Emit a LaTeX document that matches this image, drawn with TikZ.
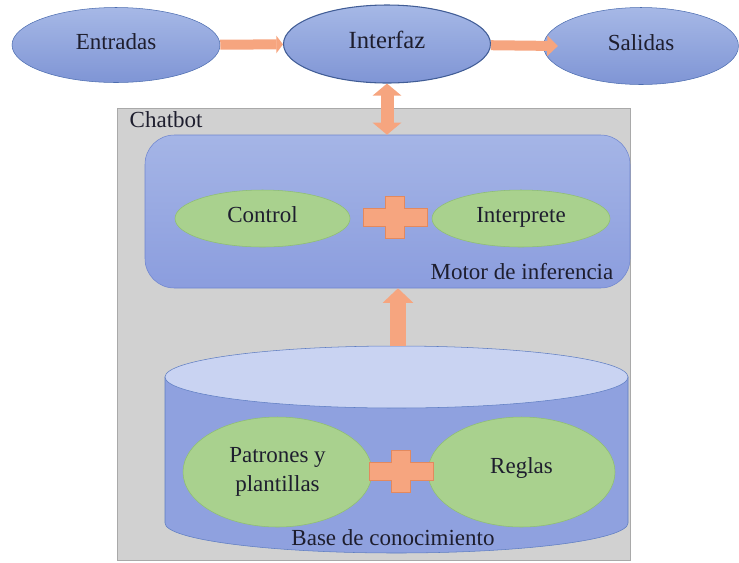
\documentclass[tikz,border=0pt]{standalone}
\usepackage{fontspec}
\setmainfont{LiberationSerif}[Extension=.ttf, UprightFont=*-Regular, BoldFont=*-Bold]
\usetikzlibrary{shapes.geometric, arrows.meta}

\definecolor{ovaldraw}{HTML}{4C6DB0}
\definecolor{ovaltop}{HTML}{A6B8E6}
\definecolor{ovalbot}{HTML}{7F95D5}
\definecolor{motordraw}{HTML}{6F86CF}
\definecolor{motortop}{HTML}{A5B5E6}
\definecolor{motorbot}{HTML}{8B9DDE}
\definecolor{leafdraw}{HTML}{8FBF70}
\definecolor{leaffill}{HTML}{A9D18E}
\definecolor{cylbody}{HTML}{8FA1DF}
\definecolor{cyltop}{HTML}{C9D3F2}
\definecolor{cyldraw}{HTML}{5E7DC2}
\definecolor{boxfill}{HTML}{D1D1D1}
\definecolor{boxdraw}{HTML}{A9A9A9}
\definecolor{arrowfill}{HTML}{F6A57F}
\definecolor{arrowdraw}{HTML}{E3895E}
\definecolor{inktext}{HTML}{1E1E2E}

\begin{document}
\begin{tikzpicture}[x=0.75pt, y=-0.75pt,
    every node/.style={text=inktext, font=\rmfamily\fontsize{17.25}{22}\selectfont},
    evenline/.style={text height=0.66em, text depth=0em},
    oval/.style={ellipse, draw=ovaldraw, top color=ovaltop, bottom color=ovalbot, inner sep=0pt, evenline},
    leaf/.style={ellipse, draw=leafdraw, fill=leaffill, inner sep=0pt, align=center},
    blockarrow/.style={draw=arrowfill, line width=7.5pt},
    plussign/.pic={
        \fill[arrowfill, draw=arrowdraw, line width=0.4pt]
        (-32,-9) -- (-9.5,-9) -- (-9.5,-21) -- (9.5,-21) -- (9.5,-9) -- (32,-9)
        -- (32,9) -- (9.5,9) -- (9.5,21) -- (-9.5,21) -- (-9.5,9) -- (-32,9) -- cycle;
    }]
    \useasboundingbox (0,0) rectangle (739,562);

    % chatbot frame
    \draw[draw=boxdraw, fill=boxfill] (117,108) rectangle (630,560);
    \node[anchor=west] (chatbot) at (125,120) {Chatbot};

    % top row
    \node[oval, minimum width=156pt, minimum height=56.25pt] (entradas) at (116,45) {Entradas};
    \node[oval, minimum width=155.25pt, minimum height=58.5pt, draw=ovaldraw!85!black, line width=0.8pt,
          font=\rmfamily\fontsize{18.5}{22}\selectfont] (interfaz) at (387,44) {Interfaz};
    \node[oval, minimum width=146.25pt, minimum height=57.75pt] (salidas) at (641,46) {Salidas};

    % motor de inferencia
    \node[draw=motordraw, top color=motortop, bottom color=motorbot, rounded corners=22pt,
          minimum width=363.75pt, minimum height=114.75pt] (motor) at (387.5,211.5) {};
    \node[anchor=east] (motorlabel) at (618,272) {Motor de inferencia};
    \node[leaf, evenline, minimum width=131.25pt, minimum height=42.75pt] (control) at (262.5,218.5) {Control};
    \node[leaf, evenline, minimum width=133.5pt, minimum height=42.75pt] (interprete) at (521,218.5) {Interprete};
    \pic at (395,217) {plussign};

    % base de conocimiento
    \draw[draw=cyldraw, fill=cylbody] (165,377) -- (165,523)
        arc[start angle=180, end angle=0, x radius=231.5, y radius=30] -- (628,377) -- cycle;
    \draw[draw=cyldraw, fill=cyltop] (396.5,377) ellipse [x radius=231.5, y radius=31];
    \coordinate (basetop) at (398,346);
    \node (baselabel) at (393,538) {Base de conocimiento};
    \node[leaf, minimum width=141.75pt, minimum height=82.5pt] (patrones) at (277.5,472) {Patrones y\\plantillas};
    \node[leaf, text height=0.66em, text depth=0.5em, minimum width=140.25pt, minimum height=82.5pt]
        (reglas) at (521.5,472) {Reglas};
    \pic at (401,471) {plussign};

    % flechas
    \draw[blockarrow, -{Triangle[length=5pt, width=13pt]}] (entradas) -- (interfaz);
    \draw[blockarrow, -{Triangle[length=8pt, width=15pt]}] (interfaz) -- ([xshift=11pt]salidas.west);
    \draw[blockarrow, line width=9.75pt,
          {Triangle[length=9pt, width=21pt]}-{Triangle[length=9pt, width=21pt]}]
          (interfaz.south) -- (interfaz.south |- motor.north);
    \draw[blockarrow, line width=12pt, -{Triangle[length=11pt, width=22.5pt]}]
          (basetop) -- (basetop |- motor.south);
\end{tikzpicture}
\end{document}
